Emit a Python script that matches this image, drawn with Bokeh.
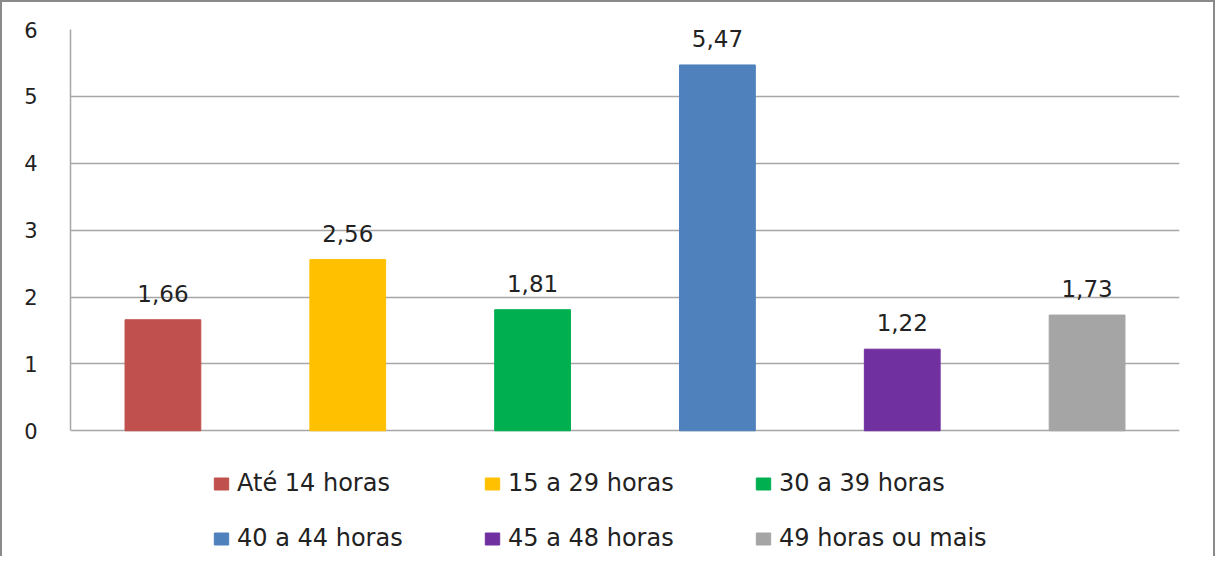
from bokeh.plotting import figure
from bokeh.models import ColumnDataSource, Legend, LegendItem, FactorRange, Range1d, FixedTicker
from bokeh.embed import file_html
from bokeh.resources import INLINE
from bokeh.core.properties import value

categories = ["Até 14 horas", "15 a 29 horas", "30 a 39 horas",
              "40 a 44 horas", "45 a 48 horas", "49 horas ou mais"]
values = [1.66, 2.56, 1.81, 5.47, 1.22, 1.73]
colors = ["#C0504D", "#FFC000", "#00B050", "#4F81BD", "#7030A0", "#A5A5A5"]
y_ticks = [0, 1, 2, 3, 4, 5, 6]

labels = [f"{v:.2f}".replace(".", ",") for v in values]
src = ColumnDataSource(dict(cat=categories, val=values, color=colors, label=labels))

# plot area: 399 px for the 0..6 axis, 127 px below it reserved for the legend
y_top = max(y_ticks)
y_bottom = -y_top * 127 / 399

p = figure(x_range=FactorRange(*categories, range_padding=0),
           y_range=Range1d(y_bottom, y_top),
           width=1215, height=556, output_backend="svg", toolbar_location=None,
           min_border_left=68, min_border_top=27, min_border_right=38, min_border_bottom=0)
p.styles = {"border-left": "2px solid #8a8a8a", "border-top": "2px solid #8a8a8a",
            "border-right": "2px solid #8a8a8a", "box-sizing": "border-box"}

r = p.vbar(x="cat", top="val", width=0.41, color="color", source=src)
p.text(x="cat", y="val", text="label", source=src, text_align="center",
       text_baseline="bottom", y_offset=-18, text_font=value("DejaVu Sans"),
       text_font_size="23px", text_color="#222222")

p.xaxis.visible = False
p.xgrid.grid_line_color = None
p.ygrid.grid_line_color = "#a6a6a6"
p.ygrid.grid_line_width = 1.5
p.yaxis.ticker = FixedTicker(ticks=y_ticks)
p.yaxis.bounds = (min(y_ticks), max(y_ticks))
p.yaxis.major_tick_line_color = None
p.yaxis.minor_tick_line_color = None
p.yaxis.axis_line_color = "#a6a6a6"
p.yaxis.axis_line_width = 1.5
p.yaxis.major_label_standoff = 27
p.yaxis.major_label_text_font = "DejaVu Sans"
p.yaxis.major_label_text_font_size = "21px"
p.yaxis.major_label_text_color = "#222222"
p.outline_line_color = None

items = [LegendItem(label=c, renderers=[r], index=i) for i, c in enumerate(categories)]
leg = Legend(items=items, ncols=3, orientation="horizontal", location=(142, 0),
             label_text_font="DejaVu Sans", label_text_font_size="24px", label_text_color="#222222",
             glyph_width=18, glyph_height=15, label_standoff=7, label_width=231,
             spacing=15, padding=0, margin=0, border_line_color=None, background_fill_alpha=0,
             label_height=40, label_text_line_height=1.0)
p.add_layout(leg, "center")

open("out.html", "w").write(file_html(p, INLINE))
